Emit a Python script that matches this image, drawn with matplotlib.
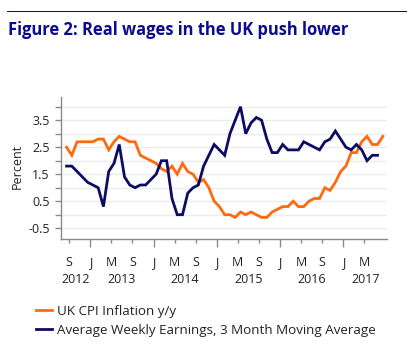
import matplotlib
matplotlib.use("Agg")
import matplotlib.pyplot as plt
from matplotlib.lines import Line2D
from matplotlib.patches import Rectangle
import matplotlib.transforms as mtransforms

# ---- data (monthly, Aug 2012 onwards) ----
start_month = 7  # months since Jan 2012 (Aug 2012)
cpi = [2.5, 2.2, 2.7, 2.7, 2.7, 2.7, 2.8, 2.8, 2.4, 2.7, 2.9, 2.8,
       2.7, 2.7, 2.2, 2.1, 2.0, 1.9, 1.7, 1.6, 1.8, 1.5, 1.9, 1.6,
       1.5, 1.2, 1.3, 1.0, 0.5, 0.3, 0.0, 0.0, -0.1, 0.1, 0.0, 0.1,
       0.0, -0.1, -0.1, 0.1, 0.2, 0.3, 0.3, 0.5, 0.3, 0.3, 0.5, 0.6,
       0.6, 1.0, 0.9, 1.2, 1.6, 1.8, 2.3, 2.3, 2.7, 2.9, 2.6, 2.6, 2.9]
awe = [1.8, 1.8, 1.6, 1.4, 1.2, 1.1, 1.0, 0.3, 1.6, 1.9, 2.6, 1.4,
       1.1, 1.0, 1.1, 1.1, 1.3, 1.5, 2.0, 2.0, 0.6, 0.0, 0.0, 0.8,
       1.0, 1.1, 1.8, 2.2, 2.6, 2.4, 2.2, 3.0, 3.5, 4.0, 3.0, 3.4,
       3.6, 3.5, 2.8, 2.3, 2.3, 2.6, 2.4, 2.4, 2.4, 2.7, 2.6, 2.5,
       2.4, 2.7, 2.8, 3.1, 2.8, 2.5, 2.4, 2.6, 2.4, 2.0, 2.2, 2.2]
month_tick_labels = ["S", "J", "M", "S", "J", "M", "S", "J", "M", "S",
                     "J", "M", "S", "J", "M"]
years = ["2012", "2013", "2014", "2015", "2016", "2017"]
y_tick_labels = ["-0.5", "0.5", "1.5", "2.5", "3.5"]
series_names = ["UK CPI Inflation y/y",
                "Average Weekly Earnings, 3 Month Moving Average"]

ORANGE = "#ff6a10"
NAVY = "#0c0c62"
TITLE_BLUE = "#0b0b8f"
TEXT = "#222222"
AXIS = "#8a8a8a"

plt.rcParams["font.family"] = ["Open Sans", "DejaVu Sans"]

W, H = 412, 356
fig = plt.figure(figsize=(W / 100, H / 100), dpi=100)
ax = fig.add_axes([61 / W, 1 - 239 / H, (387.3 - 61) / W, (239 - 96.7) / H])

x_cpi = [start_month + i + 0.5 for i in range(len(cpi))]
x_awe = [start_month + i + 0.5 for i in range(len(awe))]
ax.plot(x_cpi, cpi, color=ORANGE, lw=2.0, solid_joinstyle="miter")
ax.plot(x_awe, awe, color=NAVY, lw=2.0, solid_joinstyle="miter")

xlim = (6.45, 68.35)
ax.set_xlim(*xlim)
ax.set_ylim(-0.9, 4.37)

# x ticks: every 4 months from Sep 2012; Jan ticks are longer
tick_pos = [8 + 4 * i for i in range(len(month_tick_labels))]
maj = [(p, l) for p, l in zip(tick_pos, month_tick_labels) if p % 12 == 0]
mnr = [(p, l) for p, l in zip(tick_pos, month_tick_labels) if p % 12 != 0]
ax.set_xticks([p for p, _ in maj], [l for _, l in maj])
ax.set_xticks([p for p, _ in mnr], [l for _, l in mnr], minor=True)
ax.tick_params(axis="x", which="major", length=6, width=1, color=AXIS,
               pad=6, labelsize=9, labelcolor=TEXT)
ax.tick_params(axis="x", which="minor", length=3, width=1, color=AXIS,
               pad=9, labelsize=9, labelcolor=TEXT)

# y ticks
yt_major = [float(v) for v in y_tick_labels]
yt_minor = [0.0, 1.0, 2.0, 3.0, 4.0]
ax.set_yticks(yt_major, y_tick_labels)
ax.set_yticks(yt_minor, minor=True)
ax.tick_params(axis="y", which="both", length=4, width=1, color=AXIS,
               pad=4, labelsize=9, labelcolor=TEXT)

ax.grid(True, axis="y", which="both", color="#ececec", lw=1)
ax.set_axisbelow(True)
for s in ["top", "right"]:
    ax.spines[s].set_visible(False)
for s in ["left", "bottom"]:
    ax.spines[s].set_color(AXIS)
    ax.spines[s].set_linewidth(1)

# year labels centred on visible span of each year
trans = mtransforms.blended_transform_factory(ax.transData, fig.transFigure)
for k, yr in enumerate(years):
    a = max(12 * k, xlim[0])
    b = min(12 * (k + 1), xlim[1])
    ax.text((a + b) / 2, 1 - 283 / H, yr, transform=trans, ha="center",
            va="baseline", fontsize=9, color=TEXT)

fig.text(17 / W, 1 - 166.7 / H, "Percent", rotation=90, ha="center",
         va="center", fontsize=9, color=TEXT)

# title and rule above it
fig.add_artist(Rectangle((7 / W, 1 - 12.3 / H), 400 / W, 1.6 / H,
                         transform=fig.transFigure, facecolor=TITLE_BLUE,
                         edgecolor="none", zorder=5))
fig.text(8 / W, 1 - 35 / H, "Figure 2: Real wages in the UK push lower",
         fontsize=11.9, fontweight="bold", color=TITLE_BLUE, ha="left",
         va="baseline")

handles = [Line2D([], [], color=ORANGE, lw=2), Line2D([], [], color=NAVY, lw=2)]
fig.legend(handles, series_names, loc="upper left",
           bbox_to_anchor=(36 / W, 1 - 305 / H), frameon=False, fontsize=9.6,
           handlelength=1.2, handletextpad=0.4, labelspacing=0.46,
           borderpad=0, borderaxespad=0, labelcolor=TEXT)

fig.savefig("out.png", dpi=100)
